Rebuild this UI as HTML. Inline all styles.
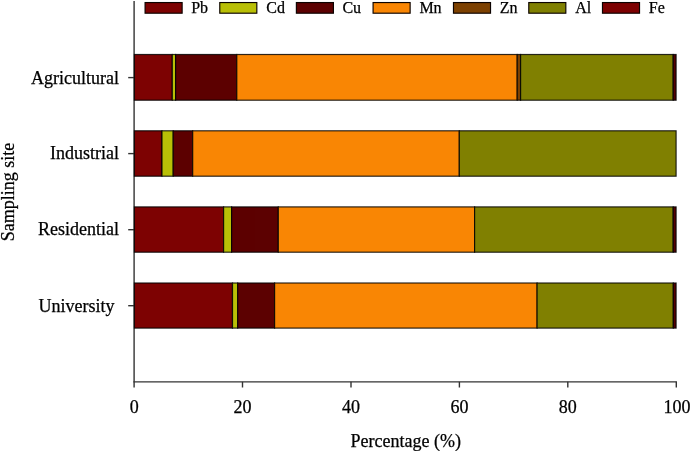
<!DOCTYPE html>
<html>
<head>
<meta charset="utf-8">
<style>
html,body{margin:0;padding:0;background:#fff;}
body{width:690px;height:451px;overflow:hidden;font-family:"Liberation Serif",serif;}
svg{display:block;will-change:transform;opacity:0.999;}
text{font-family:"Liberation Serif",serif;font-size:18px;fill:#000;stroke:#000;stroke-width:0.25px;}
.lg text{font-size:16px;}
</style>
</head>
<body>
<svg width="690" height="451" viewBox="0 0 690 451">
<rect x="0" y="0" width="690" height="451" fill="#ffffff"/>

<!-- axes -->
<g stroke="#333" stroke-width="1.4" fill="none">
  <line x1="134.1" y1="1" x2="134.1" y2="387.5"/>
  <line x1="133.4" y1="381.85" x2="676.9" y2="381.85"/>
  <line x1="242.5" y1="381.85" x2="242.5" y2="387.5"/>
  <line x1="351" y1="381.85" x2="351" y2="387.5"/>
  <line x1="459.4" y1="381.85" x2="459.4" y2="387.5"/>
  <line x1="567.8" y1="381.85" x2="567.8" y2="387.5"/>
  <line x1="676.3" y1="381.85" x2="676.3" y2="387.5"/>
  <line x1="128.2" y1="77.6" x2="134.1" y2="77.6"/>
  <line x1="128.2" y1="153.6" x2="134.1" y2="153.6"/>
  <line x1="128.2" y1="229.7" x2="134.1" y2="229.7"/>
  <line x1="128.2" y1="305.7" x2="134.1" y2="305.7"/>
</g>

<!-- bars -->
<g stroke="#000" stroke-width="1.2" stroke-opacity="0.82">
  <g>
    <rect x="134.40" y="54.50" width="37.90" height="45.70" fill="#7d0202"/>
    <rect x="172.30" y="54.50" width="3.30" height="45.70" fill="#b9bf06"/>
    <rect x="175.60" y="54.50" width="61.20" height="45.70" fill="#5c0000"/>
    <rect x="236.80" y="54.50" width="280.40" height="45.70" fill="#f98604"/>
    <rect x="517.20" y="54.50" width="3.40" height="45.70" fill="#7d4100"/>
    <rect x="520.60" y="54.50" width="152.60" height="45.70" fill="#808000"/>
    <rect x="673.20" y="54.50" width="2.90" height="45.70" fill="#520000"/>
  </g>
  <g>
    <rect x="134.40" y="130.80" width="27.60" height="45.40" fill="#7d0202"/>
    <rect x="162.00" y="130.80" width="11.20" height="45.40" fill="#b9bf06"/>
    <rect x="173.20" y="130.80" width="19.50" height="45.40" fill="#5c0000"/>
    <rect x="192.70" y="130.80" width="266.60" height="45.40" fill="#f98604"/>
    <rect x="459.30" y="130.80" width="216.80" height="45.40" fill="#808000"/>
  </g>
  <g>
    <rect x="134.40" y="206.90" width="89.20" height="45.30" fill="#7d0202"/>
    <rect x="223.60" y="206.90" width="8.00" height="45.30" fill="#b9bf06"/>
    <rect x="231.60" y="206.90" width="46.70" height="45.30" fill="#5c0000"/>
    <rect x="278.30" y="206.90" width="196.30" height="45.30" fill="#f98604"/>
    <rect x="474.60" y="206.90" width="198.60" height="45.30" fill="#808000"/>
    <rect x="673.20" y="206.90" width="2.90" height="45.30" fill="#520000"/>
  </g>
  <g>
    <rect x="134.40" y="283.00" width="98.10" height="45.10" fill="#7d0202"/>
    <rect x="232.50" y="283.00" width="5.20" height="45.10" fill="#b9bf06"/>
    <rect x="237.70" y="283.00" width="36.90" height="45.10" fill="#5c0000"/>
    <rect x="274.60" y="283.00" width="262.50" height="45.10" fill="#f98604"/>
    <rect x="537.10" y="283.00" width="136.20" height="45.10" fill="#808000"/>
    <rect x="673.30" y="283.00" width="2.80" height="45.10" fill="#520000"/>
  </g>
</g>

<!-- legend -->
<g stroke="#0c0300" stroke-width="1.15">
  <rect x="145.08" y="2.55" width="37.05" height="10.65" fill="#7d0202"/>
  <rect x="219.78" y="2.55" width="37.05" height="10.65" fill="#b9bf06"/>
  <rect x="296.38" y="2.55" width="37.05" height="10.65" fill="#5c0000"/>
  <rect x="373.08" y="2.55" width="37.05" height="10.65" fill="#f98604"/>
  <rect x="453.48" y="2.55" width="37.05" height="10.65" fill="#7d4100"/>
  <rect x="528.78" y="2.55" width="37.05" height="10.65" fill="#808000"/>
  <rect x="602.48" y="2.55" width="37.05" height="10.65" fill="#7d0000"/>
</g>
<g class="lg">
  <text x="191.2" y="13.4">Pb</text>
  <text x="266.3" y="13.4">Cd</text>
  <text x="342.4" y="13.4">Cu</text>
  <text x="419.4" y="13.4">Mn</text>
  <text x="499.8" y="13.4">Zn</text>
  <text x="575.3" y="13.4">Al</text>
  <text x="648.8" y="13.4">Fe</text>
</g>

<!-- y labels -->
<g text-anchor="end">
  <text x="119" y="83.5">Agricultural</text>
  <text x="119" y="159.4">Industrial</text>
  <text x="119" y="235.4">Residential</text>
  <text x="119" y="311.5">University&#160;</text>
</g>

<!-- x tick labels -->
<g text-anchor="middle">
  <text x="134.2" y="412.5">0</text>
  <text x="242.6" y="412.5">20</text>
  <text x="351" y="412.5">40</text>
  <text x="459.4" y="412.5">60</text>
  <text x="567.8" y="412.5">80</text>
  <text x="677" y="412.5">100</text>
  <text x="405.7" y="446.9">Percentage (%)</text>
</g>

<text transform="translate(14,192.1) rotate(-90)" text-anchor="middle">Sampling site</text>
</svg>
</body>
</html>
